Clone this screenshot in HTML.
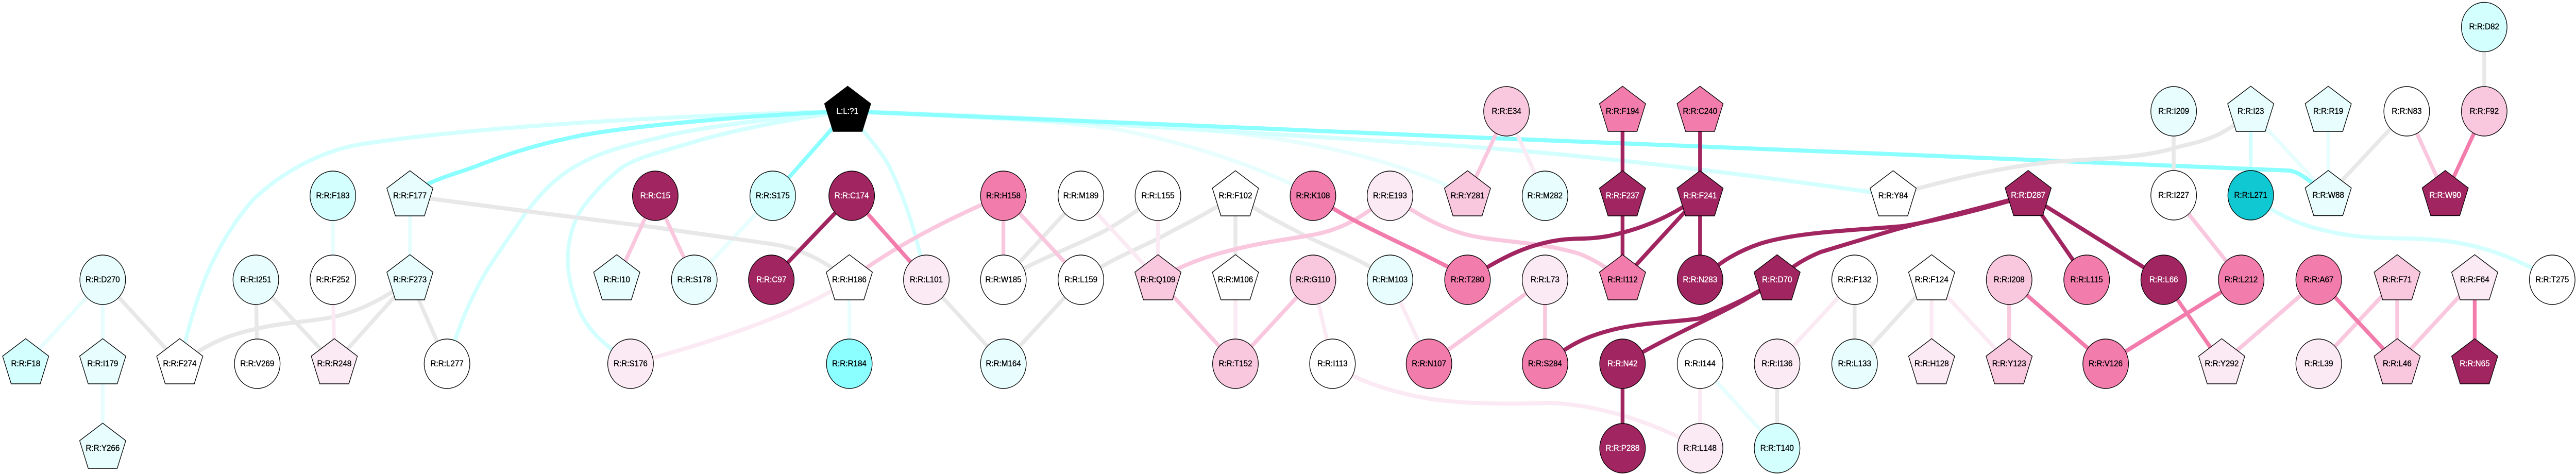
<!DOCTYPE html>
<html><head><meta charset="utf-8"><title>Network</title>
<style>
html,body{margin:0;padding:0;background:#fff;width:100%;height:100%;overflow:hidden}
svg{display:block;position:absolute;left:0;top:0;width:100%;height:100%}
text{font-family:"Liberation Sans",Arial,sans-serif;font-size:16.5px;text-anchor:middle;fill:#000;stroke:#000;stroke-width:.35px}
text.w{fill:#fff;stroke:#fff}
.n circle,.n polygon{stroke:#000;stroke-width:1.4}
</style></head><body>
<svg viewBox="0 0 5417 920" preserveAspectRatio="none" xmlns="http://www.w3.org/2000/svg">
<g stroke="#e8fefe" stroke-width="8" fill="none">
<path d="M1782 216C2100 224 2450 240 2638 263C2790 282 2950 315 3086 379"/>
<path d="M1782 216C2000 226 2200 232 2319 247C2440 262 2650 320 2761 379"/>
<line x1="700" y1="380" x2="700" y2="543"/><line x1="862" y1="380" x2="862" y2="543"/>
<line x1="216" y1="543" x2="54" y2="706"/><line x1="216" y1="543" x2="216" y2="706"/><line x1="216" y1="706" x2="216" y2="870"/>
<line x1="1625" y1="380" x2="1460" y2="543"/><line x1="1786" y1="543" x2="1786" y2="706"/>
<line x1="3575" y1="706" x2="3737" y2="870"/><line x1="4733" y1="216" x2="4896" y2="379"/><line x1="4896" y1="216" x2="4896" y2="379"/>
</g>
<g stroke="#d3ffff" stroke-width="8" fill="none">
<path d="M1782 216C1500 222 1050 240 765 279C680 291 600 330 536 384C500 420 470 465 446 510C415 570 395 640 378 706"/>
<path d="M1782 216C1600 232 1450 250 1383 268C1300 285 1250 300 1204 326C1160 350 1130 385 1108 410C1060 475 1020 525 1000 565C975 610 960 650 940 706"/>
<path d="M1782 216C1650 232 1530 255 1446 279C1390 295 1340 305 1306 326C1260 360 1230 395 1217 415C1200 445 1194 475 1194 505C1194 540 1205 570 1217 600C1235 640 1265 665 1326 706"/>
<path d="M1782 216C1820 260 1860 300 1874 331C1905 390 1925 450 1948 543"/>
<path d="M1782 216C2100 226 2700 262 3000 279C3300 296 3650 335 3981 379"/>
<path d="M4733 379C4790 420 4850 440 4888 447C4950 462 5000 462 5071 463C5150 465 5250 475 5367 543"/>
<line x1="4733" y1="216" x2="4733" y2="379"/>
</g>
<g stroke="#8bffff" stroke-width="8" fill="none">
<path d="M1782 216C1600 222 1300 245 1191 269C1110 285 1050 305 1000 323C950 340 900 350 862 379"/>
<line x1="1782" y1="216" x2="1625" y2="380"/>
<path d="M1782 216C2100 226 2600 248 3000 263C3400 278 3700 290 4000 300L4813 331C4830 332 4850 345 4896 379"/>
</g>
<g stroke="#e8e8e8" stroke-width="8" fill="none">
<line x1="216" y1="543" x2="378" y2="706"/><line x1="538" y1="543" x2="541" y2="706"/><line x1="538" y1="543" x2="703" y2="706"/>
<line x1="862" y1="543" x2="703" y2="706"/><line x1="862" y1="543" x2="940" y2="706"/>
<path d="M862 543C800 585 750 605 702 615C650 625 600 625 540 638C480 650 440 665 378 706"/>
<path d="M862 380C1100 410 1300 432 1383 442C1500 458 1600 470 1638 476C1690 486 1730 505 1786 543"/>
<line x1="1948" y1="543" x2="2110" y2="706"/><line x1="2273" y1="543" x2="2110" y2="706"/>
<line x1="2273" y1="380" x2="2110" y2="543"/>
<path d="M2435 380C2390 410 2350 435 2319 450C2260 478 2190 500 2110 543"/>
<path d="M2598 379C2530 420 2480 440 2446 458C2390 485 2340 500 2273 543"/>
<line x1="2598" y1="380" x2="2598" y2="543"/>
<path d="M2598 379C2660 420 2700 435 2733 452C2790 480 2860 500 2923 543"/>
<line x1="3737" y1="706" x2="3737" y2="870"/><line x1="3900" y1="543" x2="3900" y2="706"/><line x1="4062" y1="543" x2="3900" y2="706"/>
<path d="M4733 216C4670 272 4620 275 4574 287C4500 308 4400 308 4319 314C4230 322 4130 340 3981 379"/>
<line x1="4571" y1="216" x2="4571" y2="379"/><line x1="5061" y1="216" x2="4896" y2="379"/><line x1="5224" y1="52" x2="5224" y2="216"/>
</g>
<g stroke="#fbeaf3" stroke-width="8" fill="none">
<line x1="700" y1="543" x2="703" y2="706"/>
<path d="M1786 543C1700 600 1500 665 1326 706"/>
<line x1="2273" y1="380" x2="2435" y2="543"/><line x1="2435" y1="380" x2="2435" y2="543"/>
<line x1="2598" y1="543" x2="2598" y2="706"/><line x1="2761" y1="543" x2="2802" y2="706"/><line x1="2923" y1="543" x2="3005" y2="706"/>
<path d="M2802 706C2860 745 2950 765 3000 773C3080 786 3200 784 3255 782C3350 784 3470 815 3575 870"/>
<line x1="3168" y1="216" x2="3249" y2="379"/><line x1="3575" y1="706" x2="3575" y2="870"/><line x1="3900" y1="543" x2="3737" y2="706"/>
<line x1="4062" y1="543" x2="4062" y2="706"/><line x1="4062" y1="543" x2="4225" y2="706"/>
</g>
<g stroke="#f9c8de" stroke-width="8" fill="none">
<line x1="1378" y1="380" x2="1297" y2="543"/><line x1="1378" y1="380" x2="1460" y2="543"/>
<path d="M1786 543C1880 480 1980 430 2110 379"/>
<line x1="2110" y1="380" x2="2110" y2="543"/><line x1="2110" y1="380" x2="2273" y2="543"/>
<path d="M2923 379C2860 425 2820 445 2765 455C2700 467 2540 480 2435 543"/>
<path d="M2923 379C2970 410 3030 445 3096 458C3160 470 3240 470 3319 492C3350 502 3380 520 3412 543"/>
<line x1="2435" y1="543" x2="2598" y2="706"/><line x1="2761" y1="543" x2="2598" y2="706"/>
<line x1="3168" y1="216" x2="3086" y2="379"/><line x1="3249" y1="543" x2="3005" y2="706"/><line x1="3249" y1="543" x2="3249" y2="706"/>
<line x1="4225" y1="543" x2="4225" y2="706"/><line x1="4571" y1="379" x2="4713" y2="543"/>
<line x1="4876" y1="543" x2="4672" y2="706"/><line x1="5041" y1="543" x2="5041" y2="706"/><line x1="5041" y1="543" x2="4876" y2="706"/><line x1="5204" y1="543" x2="5041" y2="706"/>
<line x1="5061" y1="216" x2="5142" y2="379"/>
</g>
<g stroke="#f27cab" stroke-width="8" fill="none">
<line x1="1791" y1="380" x2="1948" y2="543"/>
<path d="M2761 379C2830 425 2920 460 3000 497S3060 525 3086 543"/>
<line x1="4225" y1="543" x2="4428" y2="706"/><line x1="4713" y1="543" x2="4428" y2="706"/><line x1="4550" y1="543" x2="4672" y2="706"/>
<line x1="4876" y1="543" x2="5041" y2="706"/><line x1="5204" y1="543" x2="5204" y2="706"/><line x1="5224" y1="216" x2="5142" y2="379"/>
</g>
<g stroke="#a12560" stroke-width="8" fill="none">
<line x1="1791" y1="380" x2="1622" y2="543"/>
<line x1="3412" y1="216" x2="3412" y2="379"/><line x1="3412" y1="379" x2="3412" y2="543"/>
<line x1="3575" y1="216" x2="3575" y2="379"/><line x1="3575" y1="379" x2="3412" y2="543"/><line x1="3575" y1="379" x2="3575" y2="543"/>
<path d="M3575 379C3510 425 3440 447 3383 458C3340 465 3320 462 3287 465C3220 472 3160 497 3086 543"/>
<path d="M4265 379C4150 412 4050 432 4000 439C3900 447 3780 450 3701 473C3660 486 3620 505 3575 543"/>
<path d="M4265 379C4180 400 4070 425 4000 442C3950 455 3880 475 3829 489C3800 500 3770 515 3737 543"/>
<path d="M3737 543C3660 590 3590 612 3574 618C3530 625 3450 625 3383 642C3330 655 3300 670 3249 706"/>
<path d="M3737 543C3640 605 3530 640 3412 706"/>
<line x1="3412" y1="706" x2="3412" y2="870"/>
<line x1="4265" y1="379" x2="4388" y2="543"/><line x1="4265" y1="379" x2="4550" y2="543"/>
</g>
<g class="n">
<polygon transform="translate(54 706)" points="0,-48.7 48.5,-14.7 30.5,39 -30.5,39 -48.5,-14.7" fill="#d3ffff"/><text x="54" y="711">R:R:F18</text>
<polygon transform="translate(216 706)" points="0,-48.7 48.5,-14.7 30.5,39 -30.5,39 -48.5,-14.7" fill="#e8fefe"/><text x="216" y="711">R:R:I179</text>
<polygon transform="translate(216 870)" points="0,-48.7 48.5,-14.7 30.5,39 -30.5,39 -48.5,-14.7" fill="#e8fefe"/><text x="216" y="875">R:R:Y266</text>
<circle cx="216" cy="543" r="48" fill="#e8fefe"/><text x="216" y="548">R:R:D270</text>
<polygon transform="translate(378 706)" points="0,-48.7 48.5,-14.7 30.5,39 -30.5,39 -48.5,-14.7" fill="#fff"/><text x="378" y="711">R:R:F274</text>
<circle cx="538" cy="543" r="48" fill="#e8fefe"/><text x="538" y="548">R:R:I251</text>
<circle cx="541" cy="706" r="48" fill="#fff"/><text x="541" y="711">R:R:V269</text>
<circle cx="700" cy="543" r="48" fill="#fff"/><text x="700" y="548">R:R:F252</text>
<circle cx="700" cy="380" r="48" fill="#d3ffff"/><text x="700" y="385">R:R:F183</text>
<polygon transform="translate(703 706)" points="0,-48.7 48.5,-14.7 30.5,39 -30.5,39 -48.5,-14.7" fill="#fbeaf3"/><text x="703" y="711">R:R:R248</text>
<polygon transform="translate(862 380)" points="0,-48.7 48.5,-14.7 30.5,39 -30.5,39 -48.5,-14.7" fill="#e8fefe"/><text x="862" y="385">R:R:F177</text>
<polygon transform="translate(862 543)" points="0,-48.7 48.5,-14.7 30.5,39 -30.5,39 -48.5,-14.7" fill="#e8fefe"/><text x="862" y="548">R:R:F273</text>
<circle cx="940" cy="706" r="48" fill="#fff"/><text x="940" y="711">R:R:L277</text>
<polygon transform="translate(1782.5 216)" points="0,-48.7 48.5,-14.7 30.5,39 -30.5,39 -48.5,-14.7" fill="#000"/><text class="w" x="1782" y="221">L:L:?1</text>
<circle cx="1378" cy="380" r="48" fill="#a12560"/><text class="w" x="1378" y="385">R:R:C15</text>
<polygon transform="translate(1297 543)" points="0,-48.7 48.5,-14.7 30.5,39 -30.5,39 -48.5,-14.7" fill="#e8fefe"/><text x="1297" y="548">R:R:I10</text>
<circle cx="1460" cy="543" r="48" fill="#e8fefe"/><text x="1460" y="548">R:R:S178</text>
<circle cx="1625" cy="380" r="48" fill="#d3ffff"/><text x="1625" y="385">R:R:S175</text>
<circle cx="1791" cy="380" r="48" fill="#a12560"/><text class="w" x="1791" y="385">R:R:C174</text>
<circle cx="1622" cy="543" r="48" fill="#a12560"/><text class="w" x="1622" y="548">R:R:C97</text>
<polygon transform="translate(1786 543)" points="0,-48.7 48.5,-14.7 30.5,39 -30.5,39 -48.5,-14.7" fill="#fff"/><text x="1786" y="548">R:R:H186</text>
<circle cx="1948" cy="543" r="48" fill="#fbeaf3"/><text x="1948" y="548">R:R:L101</text>
<circle cx="1326" cy="706" r="48" fill="#fbeaf3"/><text x="1326" y="711">R:R:S176</text>
<circle cx="1786" cy="706" r="48" fill="#8bffff"/><text x="1786" y="711">R:R:R184</text>
<circle cx="2110" cy="380" r="48" fill="#f27cab"/><text x="2110" y="385">R:R:H158</text>
<circle cx="2273" cy="380" r="48" fill="#fff"/><text x="2273" y="385">R:R:M189</text>
<circle cx="2435" cy="380" r="48" fill="#fff"/><text x="2435" y="385">R:R:L155</text>
<polygon transform="translate(2598 380)" points="0,-48.7 48.5,-14.7 30.5,39 -30.5,39 -48.5,-14.7" fill="#fff"/><text x="2598" y="385">R:R:F102</text>
<circle cx="2761" cy="380" r="48" fill="#f27cab"/><text x="2761" y="385">R:R:K108</text>
<circle cx="2923" cy="380" r="48" fill="#fbeaf3"/><text x="2923" y="385">R:R:E193</text>
<circle cx="2110" cy="543" r="48" fill="#fff"/><text x="2110" y="548">R:R:W185</text>
<circle cx="2273" cy="543" r="48" fill="#fff"/><text x="2273" y="548">R:R:L159</text>
<polygon transform="translate(2435 543)" points="0,-48.7 48.5,-14.7 30.5,39 -30.5,39 -48.5,-14.7" fill="#f9c8de"/><text x="2435" y="548">R:R:Q109</text>
<polygon transform="translate(2598 543)" points="0,-48.7 48.5,-14.7 30.5,39 -30.5,39 -48.5,-14.7" fill="#fff"/><text x="2598" y="548">R:R:M106</text>
<circle cx="2761" cy="543" r="48" fill="#f9c8de"/><text x="2761" y="548">R:R:G110</text>
<circle cx="2923" cy="543" r="48" fill="#e8fefe"/><text x="2923" y="548">R:R:M103</text>
<circle cx="2110" cy="706" r="48" fill="#e8fefe"/><text x="2110" y="711">R:R:M164</text>
<circle cx="2598" cy="706" r="48" fill="#f9c8de"/><text x="2598" y="711">R:R:T152</text>
<circle cx="2802" cy="706" r="48" fill="#fff"/><text x="2802" y="711">R:R:I113</text>
<circle cx="3005" cy="706" r="48" fill="#f27cab"/><text x="3005" y="711">R:R:N107</text>
<circle cx="3168" cy="216" r="48" fill="#f9c8de"/><text x="3168" y="221">R:R:E34</text>
<polygon transform="translate(3412 216)" points="0,-48.7 48.5,-14.7 30.5,39 -30.5,39 -48.5,-14.7" fill="#f27cab"/><text x="3412" y="221">R:R:F194</text>
<polygon transform="translate(3575 216)" points="0,-48.7 48.5,-14.7 30.5,39 -30.5,39 -48.5,-14.7" fill="#f27cab"/><text x="3575" y="221">R:R:C240</text>
<polygon transform="translate(3086 380)" points="0,-48.7 48.5,-14.7 30.5,39 -30.5,39 -48.5,-14.7" fill="#f9c8de"/><text x="3086" y="385">R:R:Y281</text>
<circle cx="3249" cy="380" r="48" fill="#e8fefe"/><text x="3249" y="385">R:R:M282</text>
<polygon transform="translate(3412 380)" points="0,-48.7 48.5,-14.7 30.5,39 -30.5,39 -48.5,-14.7" fill="#a12560"/><text class="w" x="3412" y="385">R:R:F237</text>
<polygon transform="translate(3575 380)" points="0,-48.7 48.5,-14.7 30.5,39 -30.5,39 -48.5,-14.7" fill="#a12560"/><text class="w" x="3575" y="385">R:R:F241</text>
<polygon transform="translate(3981 380)" points="0,-48.7 48.5,-14.7 30.5,39 -30.5,39 -48.5,-14.7" fill="#fff"/><text x="3981" y="385">R:R:Y84</text>
<circle cx="3086" cy="543" r="48" fill="#f27cab"/><text x="3086" y="548">R:R:T280</text>
<circle cx="3249" cy="543" r="48" fill="#fbeaf3"/><text x="3249" y="548">R:R:L73</text>
<polygon transform="translate(3412 543)" points="0,-48.7 48.5,-14.7 30.5,39 -30.5,39 -48.5,-14.7" fill="#f27cab"/><text x="3412" y="548">R:R:I112</text>
<circle cx="3575" cy="543" r="48" fill="#a12560"/><text class="w" x="3575" y="548">R:R:N283</text>
<polygon transform="translate(3737 543)" points="0,-48.7 48.5,-14.7 30.5,39 -30.5,39 -48.5,-14.7" fill="#a12560"/><text class="w" x="3737" y="548">R:R:D70</text>
<circle cx="3900" cy="543" r="48" fill="#fff"/><text x="3900" y="548">R:R:F132</text>
<circle cx="3249" cy="706" r="48" fill="#f27cab"/><text x="3249" y="711">R:R:S284</text>
<circle cx="3412" cy="706" r="48" fill="#a12560"/><text class="w" x="3412" y="711">R:R:N42</text>
<circle cx="3575" cy="706" r="48" fill="#fff"/><text x="3575" y="711">R:R:I144</text>
<circle cx="3737" cy="706" r="48" fill="#fbeaf3"/><text x="3737" y="711">R:R:I136</text>
<circle cx="3900" cy="706" r="48" fill="#e8fefe"/><text x="3900" y="711">R:R:L133</text>
<circle cx="3412" cy="870" r="48" fill="#a12560"/><text class="w" x="3412" y="875">R:R:P288</text>
<circle cx="3575" cy="870" r="48" fill="#fbeaf3"/><text x="3575" y="875">R:R:L148</text>
<circle cx="3737" cy="870" r="48" fill="#d3ffff"/><text x="3737" y="875">R:R:T140</text>
<polygon transform="translate(4265 379.5)" points="0,-48.7 48.5,-14.7 30.5,39 -30.5,39 -48.5,-14.7" fill="#a12560"/><text class="w" x="4265" y="384">R:R:D287</text>
<circle cx="4571" cy="216" r="48" fill="#e8fefe"/><text x="4571" y="221">R:R:I209</text>
<polygon transform="translate(4733 216)" points="0,-48.7 48.5,-14.7 30.5,39 -30.5,39 -48.5,-14.7" fill="#e8fefe"/><text x="4733" y="221">R:R:I23</text>
<polygon transform="translate(4896 216)" points="0,-48.7 48.5,-14.7 30.5,39 -30.5,39 -48.5,-14.7" fill="#e8fefe"/><text x="4896" y="221">R:R:R19</text>
<circle cx="4571" cy="379" r="48" fill="#fff"/><text x="4571" y="384">R:R:I227</text>
<circle cx="4733" cy="379" r="48" fill="#10c8d2"/><text x="4733" y="384">R:R:L271</text>
<polygon transform="translate(4896 379.5)" points="0,-48.7 48.5,-14.7 30.5,39 -30.5,39 -48.5,-14.7" fill="#e8fefe"/><text x="4896" y="384">R:R:W88</text>
<polygon transform="translate(4062 543)" points="0,-48.7 48.5,-14.7 30.5,39 -30.5,39 -48.5,-14.7" fill="#fff"/><text x="4062" y="548">R:R:F124</text>
<circle cx="4225" cy="543" r="48" fill="#f9c8de"/><text x="4225" y="548">R:R:I208</text>
<circle cx="4388" cy="543" r="48" fill="#f27cab"/><text x="4388" y="548">R:R:L115</text>
<circle cx="4550" cy="543" r="48" fill="#a12560"/><text class="w" x="4550" y="548">R:R:L66</text>
<circle cx="4713" cy="543" r="48" fill="#f27cab"/><text x="4713" y="548">R:R:L212</text>
<circle cx="4876" cy="543" r="48" fill="#f27cab"/><text x="4876" y="548">R:R:A67</text>
<polygon transform="translate(4062 706)" points="0,-48.7 48.5,-14.7 30.5,39 -30.5,39 -48.5,-14.7" fill="#fbeaf3"/><text x="4062" y="711">R:R:H128</text>
<polygon transform="translate(4225 706)" points="0,-48.7 48.5,-14.7 30.5,39 -30.5,39 -48.5,-14.7" fill="#f9c8de"/><text x="4225" y="711">R:R:Y123</text>
<circle cx="4428" cy="706" r="48" fill="#f27cab"/><text x="4428" y="711">R:R:V126</text>
<polygon transform="translate(4672 706)" points="0,-48.7 48.5,-14.7 30.5,39 -30.5,39 -48.5,-14.7" fill="#fbeaf3"/><text x="4672" y="711">R:R:Y292</text>
<circle cx="4876" cy="706" r="48" fill="#fbeaf3"/><text x="4876" y="711">R:R:L39</text>
<polygon transform="translate(5041 543)" points="0,-48.7 48.5,-14.7 30.5,39 -30.5,39 -48.5,-14.7" fill="#f9c8de"/><text x="5041" y="548">R:R:F71</text>
<polygon transform="translate(5204 543)" points="0,-48.7 48.5,-14.7 30.5,39 -30.5,39 -48.5,-14.7" fill="#fbeaf3"/><text x="5204" y="548">R:R:F64</text>
<circle cx="5367" cy="543" r="48" fill="#fff"/><text x="5367" y="548">R:R:T275</text>
<polygon transform="translate(5041 706)" points="0,-48.7 48.5,-14.7 30.5,39 -30.5,39 -48.5,-14.7" fill="#f9c8de"/><text x="5041" y="711">R:R:L46</text>
<polygon transform="translate(5204 706)" points="0,-48.7 48.5,-14.7 30.5,39 -30.5,39 -48.5,-14.7" fill="#a12560"/><text class="w" x="5204" y="711">R:R:N65</text>
<circle cx="5224" cy="52.5" r="48" fill="#d3ffff"/><text x="5224" y="57">R:R:D82</text>
<circle cx="5061" cy="216" r="48" fill="#fff"/><text x="5061" y="221">R:R:N83</text>
<circle cx="5224" cy="216" r="48" fill="#f9c8de"/><text x="5224" y="221">R:R:F92</text>
<polygon transform="translate(5142 379.5)" points="0,-48.7 48.5,-14.7 30.5,39 -30.5,39 -48.5,-14.7" fill="#a12560"/><text class="w" x="5142" y="384">R:R:W90</text>
</g>
</svg>
</body></html>
